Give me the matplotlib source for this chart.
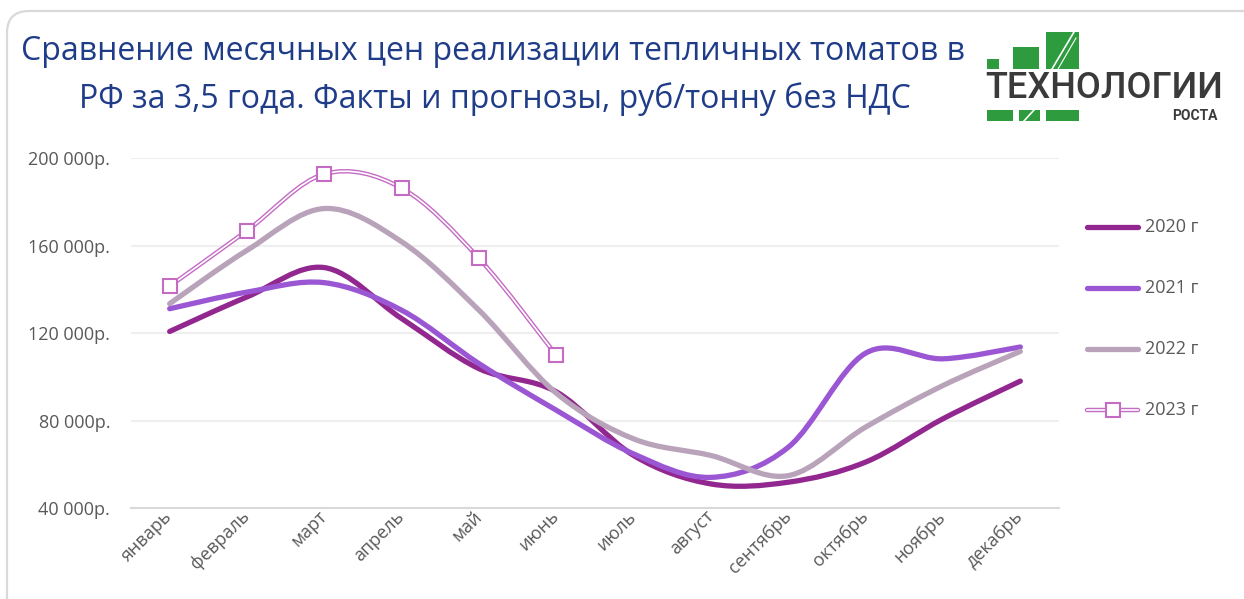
import numpy as np
import matplotlib
matplotlib.use("Agg")
import matplotlib.pyplot as plt
from matplotlib.path import Path
from matplotlib.patches import PathPatch, Rectangle, FancyBboxPatch
from matplotlib.ticker import FuncFormatter
import matplotlib.transforms as mtransforms

# ===============================
# DATA
# ===============================
TITLE_1 = "Сравнение месячных цен реализации тепличных томатов в"
TITLE_2 = "РФ за 3,5 года. Факты и прогнозы, руб/тонну без НДС"

months = ["январь", "февраль", "март", "апрель", "май", "июнь",
          "июль", "август", "сентябрь", "октябрь", "ноябрь", "декабрь"]

y2020 = [120700, 136500, 149900, 126600, 103700, 93100,
         64000, 51000, 51800, 61000, 80800, 98000]
y2021 = [131100, 138700, 143000, 130400, 106000, 84700,
         64700, 54000, 67800, 110800, 108200, 113600]
y2022 = [133400, 157800, 176900, 161700, 130400, 92500,
         71600, 64000, 54800, 77000, 96000, 111600]
y2023 = [141400, 166800, 192700, 186200, 154100, 109800]

labels = ["2020 г", "2021 г", "2022 г", "2023 г"]
colors = ["#92278F", "#9B57D3", "#B9A3BA", "#C46BC4"]

yticks = [40000, 80000, 120000, 160000, 200000]

W, H = 1244, 599


def smooth_path(ys):
    # excel-like smoothed line: cubic bezier through the points
    pts = np.column_stack([np.arange(len(ys)), np.asarray(ys, float)])
    n = len(pts)
    verts = [pts[0]]
    codes = [Path.MOVETO]
    for i in range(n - 1):
        p0 = pts[max(i - 1, 0)]
        p1 = pts[i]
        p2 = pts[i + 1]
        p3 = pts[min(i + 2, n - 1)]
        verts += [p1 + (p2 - p0) / 6, p2 - (p3 - p1) / 6, p2]
        codes += [Path.CURVE4] * 3
    return Path(verts, codes)


# ===============================
# PLOT
# ===============================
plt.rcParams["font.family"] = ["Open Sans", "DejaVu Sans"]

fig = plt.figure(figsize=(W / 100, H / 100), dpi=100)
fig.patch.set_facecolor("white")

ax = fig.add_axes([131 / W, (H - 508) / H, 928 / W, 350 / H])
ax.set_xlim(-0.5, 11.5)
ax.set_ylim(40000, 200000)

for ys, c in zip([y2020, y2021, y2022], colors[:3]):
    ax.add_patch(PathPatch(smooth_path(ys), facecolor="none", edgecolor=c,
                           lw=3.8, capstyle="round", zorder=3))

# 2023: double line with square markers
p23 = smooth_path(y2023)
ax.add_patch(PathPatch(p23, facecolor="none", edgecolor=colors[3], lw=3.2, zorder=4))
ax.add_patch(PathPatch(p23, facecolor="none", edgecolor="white", lw=1.2, zorder=5))
ax.plot(range(len(y2023)), y2023, ls="none", marker="s", ms=10,
        mfc="white", mec=colors[3], mew=1.5, zorder=6)

ax.set_yticks(yticks)
ax.yaxis.set_major_formatter(FuncFormatter(lambda v, p: f"{int(v):,}".replace(",", " ") + "р."))
ax.set_xticks(range(12))
ax.set_xticklabels(months, rotation=45, ha="right", va="center",
                   rotation_mode="anchor")
offset = mtransforms.ScaledTranslation(25 / 72, -10 / 72, fig.dpi_scale_trans)
for lab in ax.get_xticklabels():
    lab.set_transform(lab.get_transform() + offset)

ax.tick_params(axis="both", length=0, colors="#595959")
ax.tick_params(axis="y", labelsize=13, pad=15)
ax.tick_params(axis="x", labelsize=13, pad=4)
ax.grid(axis="y", color="#EFEFEF", lw=1.5)
ax.set_axisbelow(True)
for s in ["top", "right", "left"]:
    ax.spines[s].set_visible(False)
ax.spines["bottom"].set_color("#D9D9D9")
ax.spines["bottom"].set_linewidth(1.5)

# ===============================
# DECORATION (card, title, logo, legend)
# ===============================
deco = fig.add_axes([0, 0, 1, 1], zorder=10)
deco.set_xlim(0, W)
deco.set_ylim(H, 0)
deco.axis("off")
deco.patch.set_alpha(0)

deco.add_patch(FancyBboxPatch((7, 11), W + 20, H + 20,
                              boxstyle="round,pad=0,rounding_size=22",
                              fc="none", ec="#D9D9D9", lw=1.6))

deco.text(493, 52, TITLE_1, ha="center", va="center", fontsize=23,
          color="#1F3C88")
deco.text(495, 99, TITLE_2, ha="center", va="center", fontsize=23,
          color="#1F3C88")

# legend
for i, (lab, c) in enumerate(zip(labels, colors)):
    ly = 227 + i * 61
    if i < 3:
        deco.plot([1087, 1138], [ly, ly], color=c, lw=3.8, solid_capstyle="round")
    else:
        deco.plot([1087, 1138], [ly, ly], color=c, lw=3.2, solid_capstyle="round")
        deco.plot([1087, 1138], [ly, ly], color="white", lw=1.2)
        deco.plot([1112.5], [ly], ls="none", marker="s", ms=10,
                  mfc="white", mec=c, mew=1.5)
    deco.text(1145, ly, lab, ha="left", va="center", fontsize=13,
              color="#595959")

# logo
green = "#2E9B3E"
deco.add_patch(Rectangle((964, 18), 278, 140, fc="white", ec="none"))
for x0, y0, w, h in [(987, 59, 12, 10), (1013, 47, 26, 22), (1046, 32, 33, 37),
                     (987, 110, 26, 11), (1019, 110, 21, 11), (1046, 110, 33, 11)]:
    deco.add_patch(Rectangle((x0, y0), w, h, fc=green, ec="none"))
deco.plot([1052, 1074], [69, 32], color="white", lw=1.2)
deco.plot([1058, 1076], [69, 38], color="white", lw=0.8)
deco.plot([1024, 1034], [121, 110], color="white", lw=1.2)
deco.text(1104, 88, "ТЕХНОЛОГИИ", ha="center", va="center", fontsize=26,
          color="#3A3A3A", family=["Roboto", "DejaVu Sans"], fontweight="medium")
deco.text(1195, 116, "РОСТА", ha="center", va="center", fontsize=10,
          color="#3A3A3A", family=["Roboto", "DejaVu Sans"], fontweight="bold")

fig.savefig("out.png", dpi=100)
